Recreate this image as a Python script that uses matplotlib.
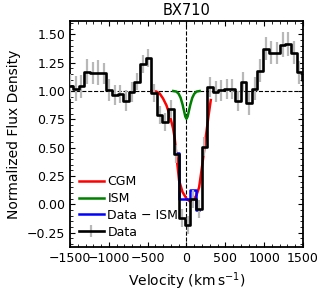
import matplotlib
matplotlib.use("Agg")
import matplotlib.pyplot as plt
from matplotlib.ticker import MultipleLocator, AutoMinorLocator

# ---- data ----
vel = [-1498, -1426, -1354, -1282, -1210, -1138, -1066, -994, -922, -850,
       -778, -706, -634, -562, -490, -418, -346, -274, -202, -130,
       -58, 14, 86, 158, 230, 302, 374, 446, 518, 590,
       662, 734, 806, 878, 950, 1022, 1094, 1166, 1238, 1310,
       1382, 1454, 1526]
flux = [1.04, 1.02, 1.04, 1.17, 1.16, 1.16, 1.155, 1.01, 0.965, 0.975,
        0.915, 0.99, 1.08, 1.235, 1.29, 0.98, 0.79, 0.725, 0.845, 0.44,
        -0.125, -0.185, 0.05, -0.045, 0.51, 1.035, 0.995, 1.005, 1.02, 1.02,
        0.91, 1.08, 0.89, 1.02, 1.18, 1.375, 1.34, 1.335, 1.41, 1.415,
        1.34, 1.165, 1.10]
ferr = [0.11, 0.11, 0.10, 0.11, 0.10, 0.11, 0.095, 0.095, 0.09, 0.08,
        0.095, 0.09, 0.075, 0.08, 0.08, 0.08, 0.08, 0.08, 0.08, 0.08,
        0.08, 0.08, 0.08, 0.08, 0.08, 0.09, 0.09, 0.09, 0.09, 0.09,
        0.09, 0.09, 0.10, 0.10, 0.10, 0.10, 0.10, 0.10, 0.11, 0.11,
        0.10, 0.10, 0.10]

vel_dmi = [-130, -58, 14, 86, 158]
flux_dmi = [0.456, 0.05, 0.05, 0.124, -0.047]

vel_cgm = [-452, -387, -344, -301, -258, -215, -172, -151, -129, -95, -52,
           0, 43, 86, 129, 163, 194, 223, 250, 280, 313]
flux_cgm = [1.0, 0.995, 0.977, 0.933, 0.874, 0.786, 0.668, 0.58, 0.43, 0.21, 0.11,
            0.05, 0.026, 0.035, 0.08, 0.15, 0.30, 0.45, 0.60, 0.76, 0.92]

vel_ism = [-170, -130, -100, -75, -50, -30, -15, 0, 15, 30, 50, 75, 100, 130, 170]
flux_ism = [1.0, 0.995, 0.975, 0.94, 0.88, 0.82, 0.775, 0.755, 0.775, 0.82, 0.88,
            0.94, 0.975, 0.995, 1.0]

title = "BX710"

fig = plt.figure(figsize=(3.24, 2.93), dpi=100)
ax = fig.add_axes([0.216, 0.156, 0.719, 0.773])

ax.axhline(1.0, color="k", ls="--", lw=0.8, zorder=1)
ax.axvline(0.0, color="k", ls="--", lw=0.8, zorder=1)

ax.plot(vel_cgm, flux_cgm, color="red", lw=1.8, label="CGM", zorder=3)
ax.plot(vel_ism, flux_ism, color="green", lw=1.8, label="ISM", zorder=3)
ax.plot(vel_dmi, flux_dmi, color="blue", lw=1.8, drawstyle="steps-mid",
        label="Data \u2212 ISM", zorder=4)
ax.errorbar(vel, flux, yerr=ferr, color="k", ecolor="0.72", elinewidth=1.6,
            lw=1.9, drawstyle="steps-mid", label="Data", zorder=5)

ax.set_xlim(-1500, 1500)
ax.set_ylim(-0.38, 1.62)
ax.xaxis.set_major_locator(MultipleLocator(500))
ax.xaxis.set_minor_locator(AutoMinorLocator(5))
ax.yaxis.set_major_locator(MultipleLocator(0.25))
ax.yaxis.set_minor_locator(AutoMinorLocator(5))
ax.tick_params(which="both", direction="in", top=True, right=True, labelsize=9)
ax.tick_params(which="major", length=3.5)
ax.tick_params(which="minor", length=2)
for s in ax.spines.values():
    s.set_linewidth(1.3)

ax.set_title(title, fontsize=10.5, pad=4)
ax.set_xlabel(r"Velocity ($\mathrm{km\,s^{-1}}$)", fontsize=10)
ax.set_ylabel("Normalized Flux Density", fontsize=10)

h, l = ax.get_legend_handles_labels()
ax.legend(h, l, loc="lower left", frameon=False, fontsize=9, labelspacing=0.3,
          handletextpad=0.3, borderaxespad=0.3)

fig.savefig("out.png", dpi=100)
